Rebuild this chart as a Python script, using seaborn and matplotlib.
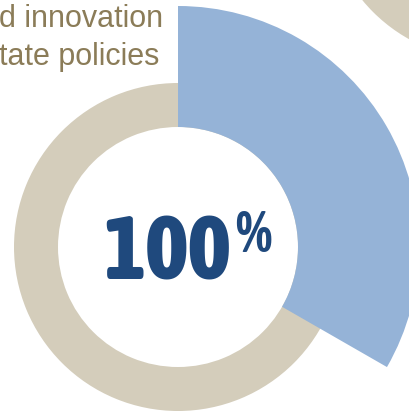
import matplotlib
matplotlib.use("Agg")
import matplotlib.pyplot as plt
import seaborn as sns

# Data
ring_values = [100]
wedge_share = [33.3, 66.7]          # blue wedge share of the full circle (%)
center_label = "100"
center_sup = "%"
caption_lines = ["d innovation", "tate policies"]

sns.set_theme(style="white")
plt.rcParams['font.family'] = ['Liberation Sans', 'DejaVu Sans']

BEIGE = "#d4cdbb"
BLUE = "#95b3d7"
DARK = "#1f497d"
GOLD = "#8b7c58"
COND = ['Asap Condensed', 'DejaVu Sans']

W, H = 410, 411
fig = plt.figure(figsize=(W / 100, H / 100), dpi=100)
ax = fig.add_axes([0, 0, 1, 1])
ax.set_facecolor("white")

cx, cy = 178, H - 247

# beige ring
ax.pie(ring_values, radius=164, center=(cx, cy), colors=[BEIGE],
       wedgeprops=dict(width=44, linewidth=0), frame=True)
# neighbouring ring at top-right (cut off)
ax.pie(ring_values, radius=164, center=(489, H + 104), colors=[BEIGE],
       wedgeprops=dict(width=44, linewidth=0), frame=True)
# blue wedge
ax.pie(wedge_share, radius=241, center=(cx, cy), startangle=90, counterclock=False,
       colors=[BLUE, (0, 0, 0, 0)], wedgeprops=dict(width=121, linewidth=0), frame=True)

ax.set_xlim(0, W)
ax.set_ylim(0, H)
ax.set_aspect("equal")
ax.axis("off")

# centre label
ax.text(231, H - 280, center_label, color=DARK, fontsize=65, fontweight=800,
        family=COND, ha="right", va="baseline")
ax.text(235, H - 252, center_sup, color=DARK, fontsize=42, fontweight=700,
        family=COND, ha="left", va="baseline")

# caption
for i, line in enumerate(caption_lines):
    ax.text(-1, H - 27 - 38 * i, line, color=GOLD, fontsize=22,
            ha="left", va="baseline")

fig.savefig("out.png", dpi=100)
